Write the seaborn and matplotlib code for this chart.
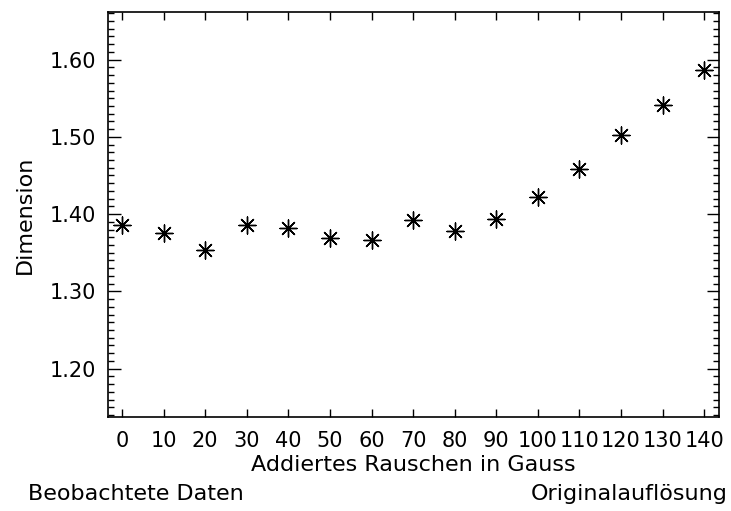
import matplotlib
matplotlib.use("Agg")
import matplotlib.pyplot as plt
import seaborn as sns
import numpy as np
from matplotlib.ticker import MultipleLocator, FixedLocator, FormatStrFormatter

noise = [0, 10, 20, 30, 40, 50, 60, 70, 80, 90, 100, 110, 120, 130, 140]
dimension = [1.386, 1.376, 1.354, 1.386, 1.382, 1.369, 1.367, 1.393,
             1.378, 1.394, 1.422, 1.459, 1.503, 1.541, 1.586]
x_ticks = [0, 10, 20, 30, 40, 50, 60, 70, 80, 90, 100, 110, 120, 130, 140]
y_ticks = [1.20, 1.30, 1.40, 1.50, 1.60]

sns.set_style("ticks")
plt.rcParams['font.family'] = ['DejaVu Sans']
plt.rcParams['text.color'] = 'black'
plt.rcParams['axes.labelcolor'] = 'black'
plt.rcParams['xtick.color'] = 'black'
plt.rcParams['ytick.color'] = 'black'

fig = plt.figure(figsize=(7.31, 5.11), dpi=100)
ax = fig.add_axes([107.5/731, 1 - 417.3/511, (718.7-107.5)/731, (417.3-11.7)/511])

sns.scatterplot(x=noise, y=dimension, ax=ax, marker=(8, 2, 0), s=150,
                color='black', linewidth=1.0, legend=False)

ax.set_xlim(-3.5, 143.5)
ax.set_ylim(1.137, 1.662)
ax.xaxis.set_major_locator(FixedLocator(x_ticks))
ax.set_xticklabels([str(v) for v in x_ticks])
ax.yaxis.set_major_locator(FixedLocator(y_ticks))
ax.yaxis.set_major_formatter(FormatStrFormatter('%.2f'))
ax.yaxis.set_minor_locator(MultipleLocator(0.01))

for s in ax.spines.values():
    s.set_visible(True)
    s.set_linewidth(1.2)
    s.set_color('black')

ax.tick_params(axis='both', which='both', direction='in', top=True, right=True,
               colors='black', labelcolor='black', labelsize=15, width=1.0)
ax.tick_params(axis='x', which='major', length=6, pad=10)
ax.tick_params(axis='y', which='major', length=9, pad=8)
ax.tick_params(axis='y', which='minor', length=4.5)

ax.set_xlabel('Addiertes Rauschen in Gauss', fontsize=16, labelpad=3)
ax.set_ylabel('Dimension', fontsize=16, labelpad=11)

fig.text(28/731, 1 - 494/511, 'Beobachtete Daten', fontsize=16,
         ha='left', va='center')
fig.text(728/731, 1 - 494/511, 'Originalauflösung', fontsize=16,
         ha='right', va='center')

fig.savefig('out.png', dpi=100)
